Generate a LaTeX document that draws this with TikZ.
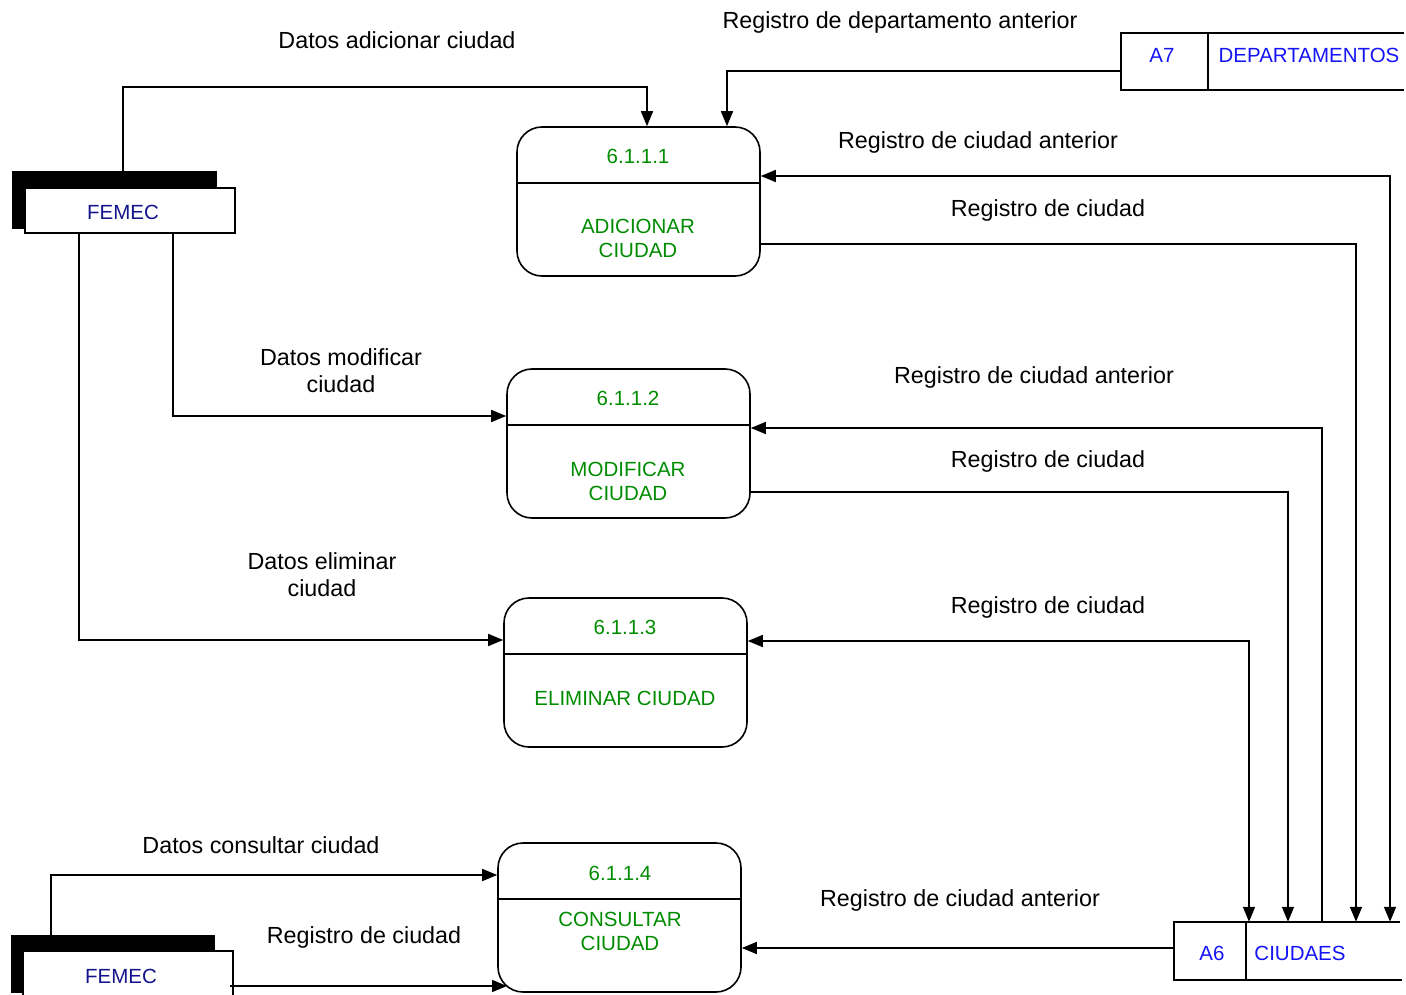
\documentclass[tikz,border=0pt]{standalone}
\usepackage{fontspec}
\setmainfont{Liberation Sans}
\usetikzlibrary{arrows.meta}
\definecolor{pgreen}{RGB}{0,140,0}
\definecolor{navyb}{RGB}{20,20,140}
\definecolor{storeb}{RGB}{20,20,245}
\tikzset{
  tip/.tip={Triangle[length=15pt,width=12pt]},
  proc/.style={draw, line width=1.6pt, rounded corners=25pt, minimum width=243pt, minimum height=149pt, inner sep=0pt},
  flow/.style={line width=1.6pt, -tip},
  flow2/.style={line width=1.6pt, tip-tip},
  plain/.style={line width=1.6pt},
  lbl/.style={font=\fontsize{23.3}{27}\selectfont, align=center, inner sep=0pt},
  ptxt/.style={text=pgreen, font=\fontsize{20.5}{24}\selectfont, align=center, inner sep=0pt},
  stxt/.style={text=storeb, font=\fontsize{20.5}{24}\selectfont, inner sep=0pt},
  etxt/.style={text=navyb, font=\fontsize{20.5}{24}\selectfont, inner sep=0pt},
  shadowbox/.style={fill=black, inner sep=0pt},
  entbox/.style={fill=white, draw, line width=1.6pt, inner sep=0pt},
}
\begin{document}
\begin{tikzpicture}[x=1pt,y=-1pt]
\useasboundingbox (0,0) rectangle (1406,995);

% processes
\node[proc] (p1) at (638.5,201.5) {};
\node[proc] (p2) at (628.5,443.5) {};
\node[proc] (p3) at (625.5,672.5) {};
\node[proc] (p4) at (619.5,917.5) {};
\foreach \p in {p1,p2,p3,p4}{
  \draw[plain] ([yshift=18.5pt]\p.west) -- ([yshift=18.5pt]\p.east);
}
\node[ptxt] (p1n) at (638,156) {6.1.1.1};
\node[ptxt] (p1t) at (638,238.5) {ADICIONAR\\CIUDAD};
\node[ptxt] (p2n) at (628,398) {6.1.1.2};
\node[ptxt] (p2t) at (628,481.5) {MODIFICAR\\CIUDAD};
\node[ptxt] (p3n) at (625,627) {6.1.1.3};
\node[ptxt] (p3t) at (625,698) {ELIMINAR CIUDAD};
\node[ptxt] (p4n) at (620,873) {6.1.1.4};
\node[ptxt] (p4t) at (620,931.5) {CONSULTAR\\CIUDAD};

% external entities
\node[shadowbox, minimum width=205pt, minimum height=58pt] (fem1s) at (114.5,200) {};
\node[entbox, minimum width=210pt, minimum height=45pt] (fem1) at (130,210.5) {};
\node[etxt] (fem1t) at (123,212) {FEMEC};
\node[shadowbox, minimum width=204pt, minimum height=58pt] (fem2s) at (113,964) {};
\fill[white] (23,951) rectangle (233,998);
\draw[plain] (23,998) -- (23,951) -- (233,951) -- (233,998);
\node[inner sep=0pt, minimum width=210pt, minimum height=47pt] (fem2) at (128,974.5) {};
\node[etxt] (fem2t) at (121,976) {FEMEC};

% data stores
\node[inner sep=0pt, minimum width=87pt, minimum height=57pt] (a7) at (1164.5,61.5) {};
\draw[plain] (1404,33) -- (1121,33) -- (1121,90) -- (1404,90);
\draw[plain] (1208,33) -- (1208,90);
\node[stxt] (a7t) at (1162,55) {A7};
\node[stxt] (a7d) at (1309,55) {DEPARTAMENTOS};

\node[inner sep=0pt, minimum width=72pt, minimum height=58pt] (a6) at (1210,951) {};
\draw[plain] (1400,922) -- (1174,922) -- (1174,980) -- (1402,980);
\draw[plain] (1246,922) -- (1246,980);
\node[stxt] (a6t) at (1212,953) {A6};
\node[stxt] (a6d) at (1300,953) {CIUDAES};

% bend coordinates
\coordinate (b1) at (647,87);
\coordinate (b1s) at (123,87);
\coordinate (b2) at (727,71);
\coordinate (b3) at (1390,176);
\coordinate (b4) at (1356,244);
\coordinate (b5) at (173,416);
\coordinate (b6) at (1322,428);
\coordinate (b7) at (1288,492);
\coordinate (b8) at (79,640);
\coordinate (b9) at (1249,641);
\coordinate (b10) at (51,875);
\coordinate (b11) at (230,986);
\coordinate (b11e) at (507,986);
\coordinate (b12) at (1174,948);

% flows
\draw[flow] (b1s |- fem1s.north) -- (b1s) -- (b1) -- (b1 |- p1.north);
\draw[flow] (a7.west |- b2) -- (b2) -- (b2 |- p1.north);
\draw[flow2] (b3 |- a6.north) -- (b3) -- (b3 -| p1.east);
\draw[flow] (b4 -| p1.east) -- (b4) -- (b4 |- a6.north);
\draw[flow] (b5 |- fem1.south) -- (b5) -- (b5 -| p2.west);
\draw[flow] (b6 |- a6.north) -- (b6) -- (b6 -| p2.east);
\draw[flow] (b7 -| p2.east) -- (b7) -- (b7 |- a6.north);
\draw[flow] (b8 |- fem1.south) -- (b8) -- (b8 -| p3.west);
\draw[flow2] (b9 |- a6.north) -- (b9) -- (b9 -| p3.east);
\draw[flow] (b10 |- fem2s.north) -- (b10) -- (b10 -| p4.west);
\draw[flow] (b11) -- (b11e);
\draw[flow] (b12) -- (b12 -| p4.east);

% labels
\node[lbl] at (397,40) {Datos adicionar ciudad};
\node[lbl] at (900,22) {Registro de departamento anterior};
\node[lbl] at (978,142) {Registro de ciudad anterior};
\node[lbl] at (1048,210) {Registro de ciudad};
\node[lbl] at (341,371) {Datos modificar\\ciudad};
\node[lbl] at (1034,377) {Registro de ciudad anterior};
\node[lbl] at (1048,461) {Registro de ciudad};
\node[lbl] at (322,575) {Datos eliminar\\ciudad};
\node[lbl] at (1048,607) {Registro de ciudad};
\node[lbl] at (261,845) {Datos consultar ciudad};
\node[lbl] at (960,900) {Registro de ciudad anterior};
\node[lbl] at (364,937) {Registro de ciudad};
\end{tikzpicture}
\end{document}
